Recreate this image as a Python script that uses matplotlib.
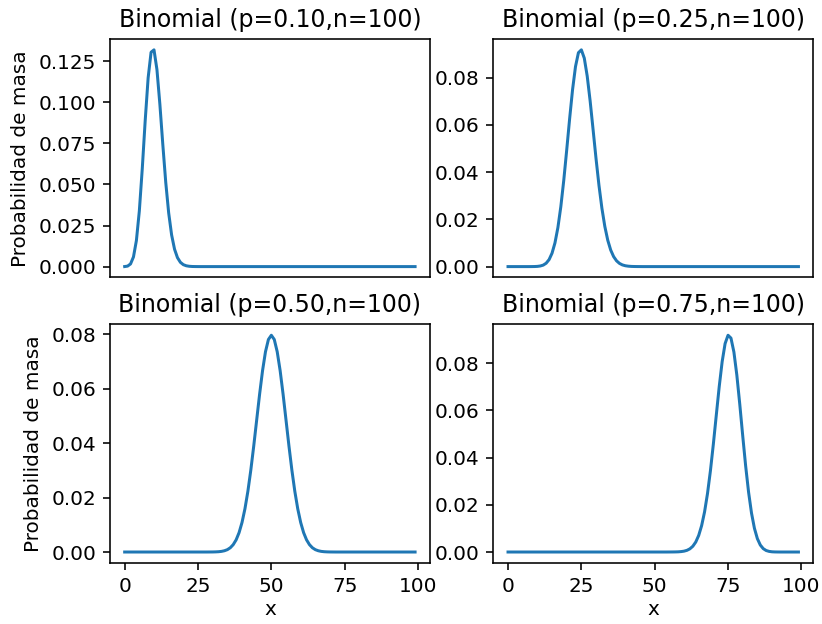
import numpy as np
import matplotlib.pyplot as plt

# Valores de x (0..99) y probabilidades
x_vals = np.arange(100)
probs = [0.10, 0.25, 0.50, 0.75]
n_trials = 100
x_ticks = [0, 25, 50, 75, 100]
y_ticks = [
    [0.0, 0.025, 0.05, 0.075, 0.1, 0.125],
    [0.0, 0.02, 0.04, 0.06, 0.08],
    [0.0, 0.02, 0.04, 0.06, 0.08],
    [0.0, 0.02, 0.04, 0.06, 0.08],
]
y_fmt = ['%.3f', '%.2f', '%.2f', '%.2f']

pmf_010 = [
    0.00003, 0.00030, 0.00162, 0.00589, 0.01587, 0.03386, 0.05957, 0.08889, 0.11482, 0.13041,
    0.13186, 0.11987, 0.09878, 0.07430, 0.05130, 0.03268, 0.01929, 0.01059, 0.00543, 0.00260,
    0.00117, 0.00050, 0.00020, 0.00007, 0.00003, 0.00001, 0, 0, 0, 0,
    0, 0, 0, 0, 0, 0, 0, 0, 0, 0,
    0, 0, 0, 0, 0, 0, 0, 0, 0, 0,
    0, 0, 0, 0, 0, 0, 0, 0, 0, 0,
    0, 0, 0, 0, 0, 0, 0, 0, 0, 0,
    0, 0, 0, 0, 0, 0, 0, 0, 0, 0,
    0, 0, 0, 0, 0, 0, 0, 0, 0, 0,
    0, 0, 0, 0, 0, 0, 0, 0, 0, 0,
]

pmf_025 = [
    0, 0, 0, 0, 0, 0, 0, 0, 0.00001, 0.00003,
    0.00009, 0.00026, 0.00063, 0.00143, 0.00296, 0.00566, 0.01003, 0.01651, 0.02538, 0.03652,
    0.04930, 0.06260, 0.07493, 0.08470, 0.09059, 0.09180, 0.08827, 0.08064, 0.07008, 0.05800,
    0.04575, 0.03444, 0.02475, 0.01700, 0.01117, 0.00702, 0.00423, 0.00244, 0.00135, 0.00071,
    0.00036, 0.00018, 0.00008, 0.00004, 0.00002, 0.00001, 0, 0, 0, 0,
    0, 0, 0, 0, 0, 0, 0, 0, 0, 0,
    0, 0, 0, 0, 0, 0, 0, 0, 0, 0,
    0, 0, 0, 0, 0, 0, 0, 0, 0, 0,
    0, 0, 0, 0, 0, 0, 0, 0, 0, 0,
    0, 0, 0, 0, 0, 0, 0, 0, 0, 0,
]

pmf_050 = [
    0, 0, 0, 0, 0, 0, 0, 0, 0, 0,
    0, 0, 0, 0, 0, 0, 0, 0, 0, 0,
    0, 0, 0, 0, 0, 0, 0, 0, 0, 0.00001,
    0.00002, 0.00005, 0.00011, 0.00023, 0.00046, 0.00086, 0.00156, 0.00270, 0.00447, 0.00711,
    0.01084, 0.01587, 0.02229, 0.03007, 0.03895, 0.04847, 0.05796, 0.06659, 0.07353, 0.07803,
    0.07959, 0.07803, 0.07353, 0.06659, 0.05796, 0.04847, 0.03895, 0.03007, 0.02229, 0.01587,
    0.01084, 0.00711, 0.00447, 0.00270, 0.00156, 0.00086, 0.00046, 0.00023, 0.00011, 0.00005,
    0.00002, 0.00001, 0, 0, 0, 0, 0, 0, 0, 0,
    0, 0, 0, 0, 0, 0, 0, 0, 0, 0,
    0, 0, 0, 0, 0, 0, 0, 0, 0, 0,
]

pmf_075 = [
    0, 0, 0, 0, 0, 0, 0, 0, 0, 0,
    0, 0, 0, 0, 0, 0, 0, 0, 0, 0,
    0, 0, 0, 0, 0, 0, 0, 0, 0, 0,
    0, 0, 0, 0, 0, 0, 0, 0, 0, 0,
    0, 0, 0, 0, 0, 0, 0, 0, 0, 0,
    0, 0, 0, 0, 0, 0.00001, 0.00002, 0.00004, 0.00008, 0.00018,
    0.00036, 0.00071, 0.00135, 0.00244, 0.00423, 0.00702, 0.01117, 0.01700, 0.02475, 0.03444,
    0.04575, 0.05800, 0.07008, 0.08064, 0.08827, 0.09180, 0.09059, 0.08470, 0.07493, 0.06260,
    0.04930, 0.03652, 0.02538, 0.01651, 0.01003, 0.00566, 0.00296, 0.00143, 0.00063, 0.00026,
    0.00009, 0.00003, 0.00001, 0, 0, 0, 0, 0, 0, 0,
]

pmfs = [pmf_010, pmf_025, pmf_050, pmf_075]

# Figura 2x2
fig, axes = plt.subplots(2, 2, figsize=(822 / 144, 624 / 144), dpi=144)
fig.subplots_adjust(left=0.134, right=0.989, top=0.9375, bottom=0.098,
                    wspace=0.2, hspace=0.197)

for i, ax in enumerate(axes.flat):
    ax.plot(x_vals, pmfs[i])
    ax.set_title('Binomial (p=%.2f,n=%d)' % (probs[i], n_trials), fontsize=11.8)
    ax.set_yticks(y_ticks[i])
    ax.set_yticklabels([y_fmt[i] % v for v in y_ticks[i]])
    if i < 2:
        ax.set_xticks([])
    else:
        ax.set_xticks(x_ticks)
        ax.set_xlabel('x', labelpad=2)
    if i % 2 == 0:
        ax.set_ylabel('Probabilidad de masa')

plt.savefig('out.png')
